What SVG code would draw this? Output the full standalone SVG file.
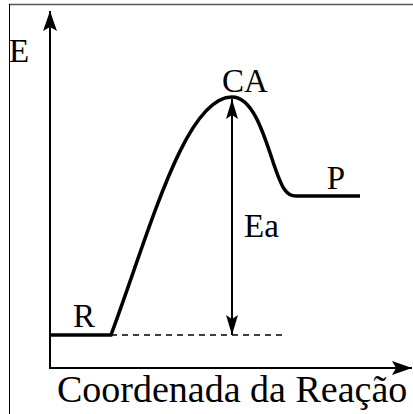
<svg xmlns="http://www.w3.org/2000/svg" width="413" height="414" viewBox="0 0 413 414">
<style>
text{font-family:'Liberation Serif','Times New Roman',serif;fill:#000}
.lbl{font-size:33px}
.ax{stroke:#000;stroke-width:2;fill:none}
.thick{stroke:#000;stroke-width:3.5;fill:none}
</style>
<defs>
<marker id="ah" markerUnits="userSpaceOnUse" viewBox="-22 -8 24 16" refX="0" refY="0" markerWidth="24" markerHeight="16" orient="auto">
<path d="M0,0 L-20,-7 L-16,0 L-20,7 Z" fill="#000"/>
</marker>
<marker id="ahs" markerUnits="userSpaceOnUse" viewBox="-22 -8 24 16" refX="0" refY="0" markerWidth="24" markerHeight="16" orient="auto-start-reverse">
<path d="M0,0 L-20,-6 L-16,0 L-20,6 Z" fill="#000"/>
</marker>
</defs>
<rect width="413" height="414" fill="#fff"/>
<g id="frame">
<line x1="9" y1="4.5" x2="413" y2="4.5" stroke="#555" stroke-width="1.5"/>
<line x1="9.5" y1="4" x2="9.5" y2="414" stroke="#000" stroke-width="1"/>
</g>
<g id="connectors">
<line id="y-axis" class="ax" x1="50" y1="368" x2="50" y2="11" marker-end="url(#ah)"/>
<line id="x-axis" class="ax" x1="49" y1="368" x2="412" y2="368" marker-end="url(#ah)"/>
<line id="ref-line" x1="111" y1="335" x2="284" y2="335" stroke="#000" stroke-width="1.5" stroke-dasharray="6,5"/>
<line id="ea-arrow" class="ax" x1="232" y1="335" x2="232" y2="99" marker-start="url(#ahs)" marker-end="url(#ahs)"/>
<path id="curve" class="thick" d="M50,335 L111,335 C150,230 185,97 232,97 C262,97 272,175 285,190 Q289,196 296,196 L360,196"/>
</g>
<g id="E"><text class="lbl" x="9" y="62" font-size="35">E</text></g>
<g id="CA"><text class="lbl" x="245" y="92" text-anchor="middle">CA</text></g>
<g id="P"><text class="lbl" x="336" y="189" text-anchor="middle">P</text></g>
<g id="Ea"><text class="lbl" x="244" y="237">Ea</text></g>
<g id="R"><text class="lbl" x="84" y="327" text-anchor="middle">R</text></g>
<g id="axis-label"><text x="57" y="402" font-size="38">Coordenada da Reação</text></g>
</svg>
